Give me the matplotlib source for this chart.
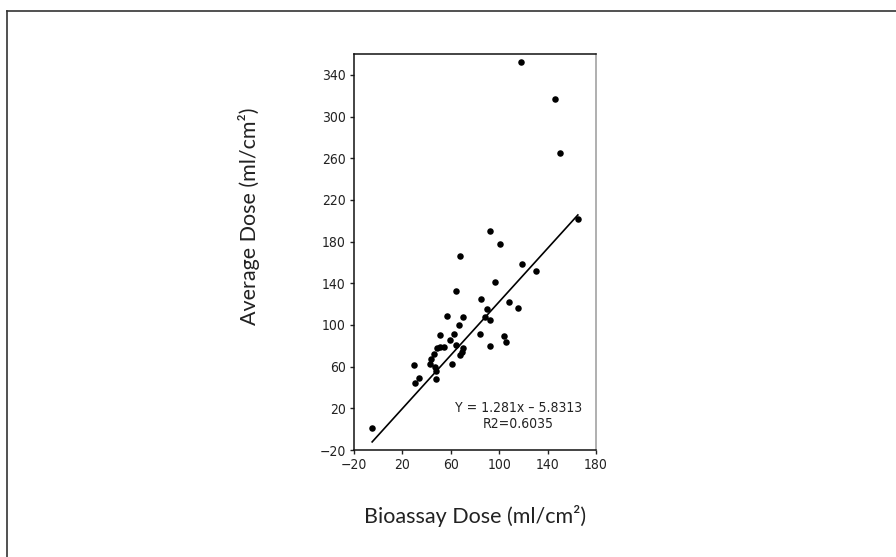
import matplotlib
matplotlib.use("Agg")
import matplotlib.pyplot as plt
from matplotlib.lines import Line2D

# Bioassay dose vs. average dose (ml/cm^2)
bioassay = [-5, 30.5, 33.5, 29.5, 43, 47, 44, 46, 48, 48, 48.5, 51, 54, 51,
            57, 59, 61, 63, 64.5, 64.6, 67, 67.5, 67.5, 69.5, 70.2, 70.2, 84,
            84.6, 88, 90, 92.3, 92.3, 92.3, 96.8, 100.3, 104, 105.5, 108.2,
            115.8, 118.6, 117.8, 130.5, 146, 150, 165]
average = [1, 44.6, 48.8, 62, 63, 60, 67, 72, 56, 48.5, 78, 79, 79, 90.5,
           109, 86, 62.5, 91, 81, 132.5, 100, 166.5, 71.2, 74.4, 77.6, 107.4,
           91, 125, 107.4, 115.4, 190.3, 104.8, 80.1, 141.4, 178, 89.3, 84,
           122, 116.4, 158.6, 352.5, 151.8, 317, 265, 202]

slope = 1.281
intercept = -5.8313
r2 = 0.6035

x_ticks = [-20, 20, 60, 100, 140, 180]
y_ticks = [-20, 20, 60, 100, 140, 180, 220, 260, 300, 340]

label_font = ["Lato", "DejaVu Sans"]

fig = plt.figure(figsize=(8.96, 5.57), dpi=100)
ax = fig.add_axes([354 / 896, 1 - 450 / 557, 242 / 896, 396 / 557])

ax.scatter(bioassay, average, s=22, color="black", marker="o",
           linewidths=0, zorder=3)

x0, x1 = min(bioassay), max(bioassay)
ax.plot([x0, x1], [slope * x0 + intercept, slope * x1 + intercept],
        color="black", lw=1.2, zorder=2)

ax.set_xlim(-20, 180)
ax.set_ylim(-20, 360)
ax.set_xticks(x_ticks)
ax.set_yticks(y_ticks)
ax.tick_params(direction="out", length=3, width=1, pad=3, colors="#222222")
for lab in ax.get_xticklabels() + ax.get_yticklabels():
    lab.set_fontfamily("DejaVu Sans")
    lab.set_fontstretch("condensed")
    lab.set_fontsize(10)
    lab.set_color("#222222")

for side in ["left", "bottom", "top"]:
    ax.spines[side].set_color("#111111")
    ax.spines[side].set_linewidth(1.1)
ax.spines["right"].set_color("#9a9a9a")
ax.spines["right"].set_linewidth(1.1)

ax.text(116, 12.6,
        f"Y = {slope:.3f}x \u2013 {abs(intercept):.4f}\nR2={r2:.4f}",
        ha="center", va="center", fontsize=10, family="DejaVu Sans",
        fontstretch="condensed", color="#222222", linespacing=1.2)

ax.set_xlabel("Bioassay Dose (ml/cm\u00b2)", fontsize=15.5, family=label_font,
              color="#222222")
ax.set_ylabel("Average Dose (ml/cm\u00b2)", fontsize=15.5, family=label_font,
              color="#222222")
ax.xaxis.set_label_coords(0.5, -0.139)
ax.yaxis.set_label_coords(-0.39, 0.59)

# Frame lines along the top and left edges of the figure
fig.add_artist(Line2D([7 / 896, 1], [1 - 11 / 557, 1 - 11 / 557],
                      transform=fig.transFigure, color="#333333", lw=1.2))
fig.add_artist(Line2D([7 / 896, 7 / 896], [0, 1 - 11 / 557],
                      transform=fig.transFigure, color="#333333", lw=1.2))

fig.savefig("out.png", dpi=100)
